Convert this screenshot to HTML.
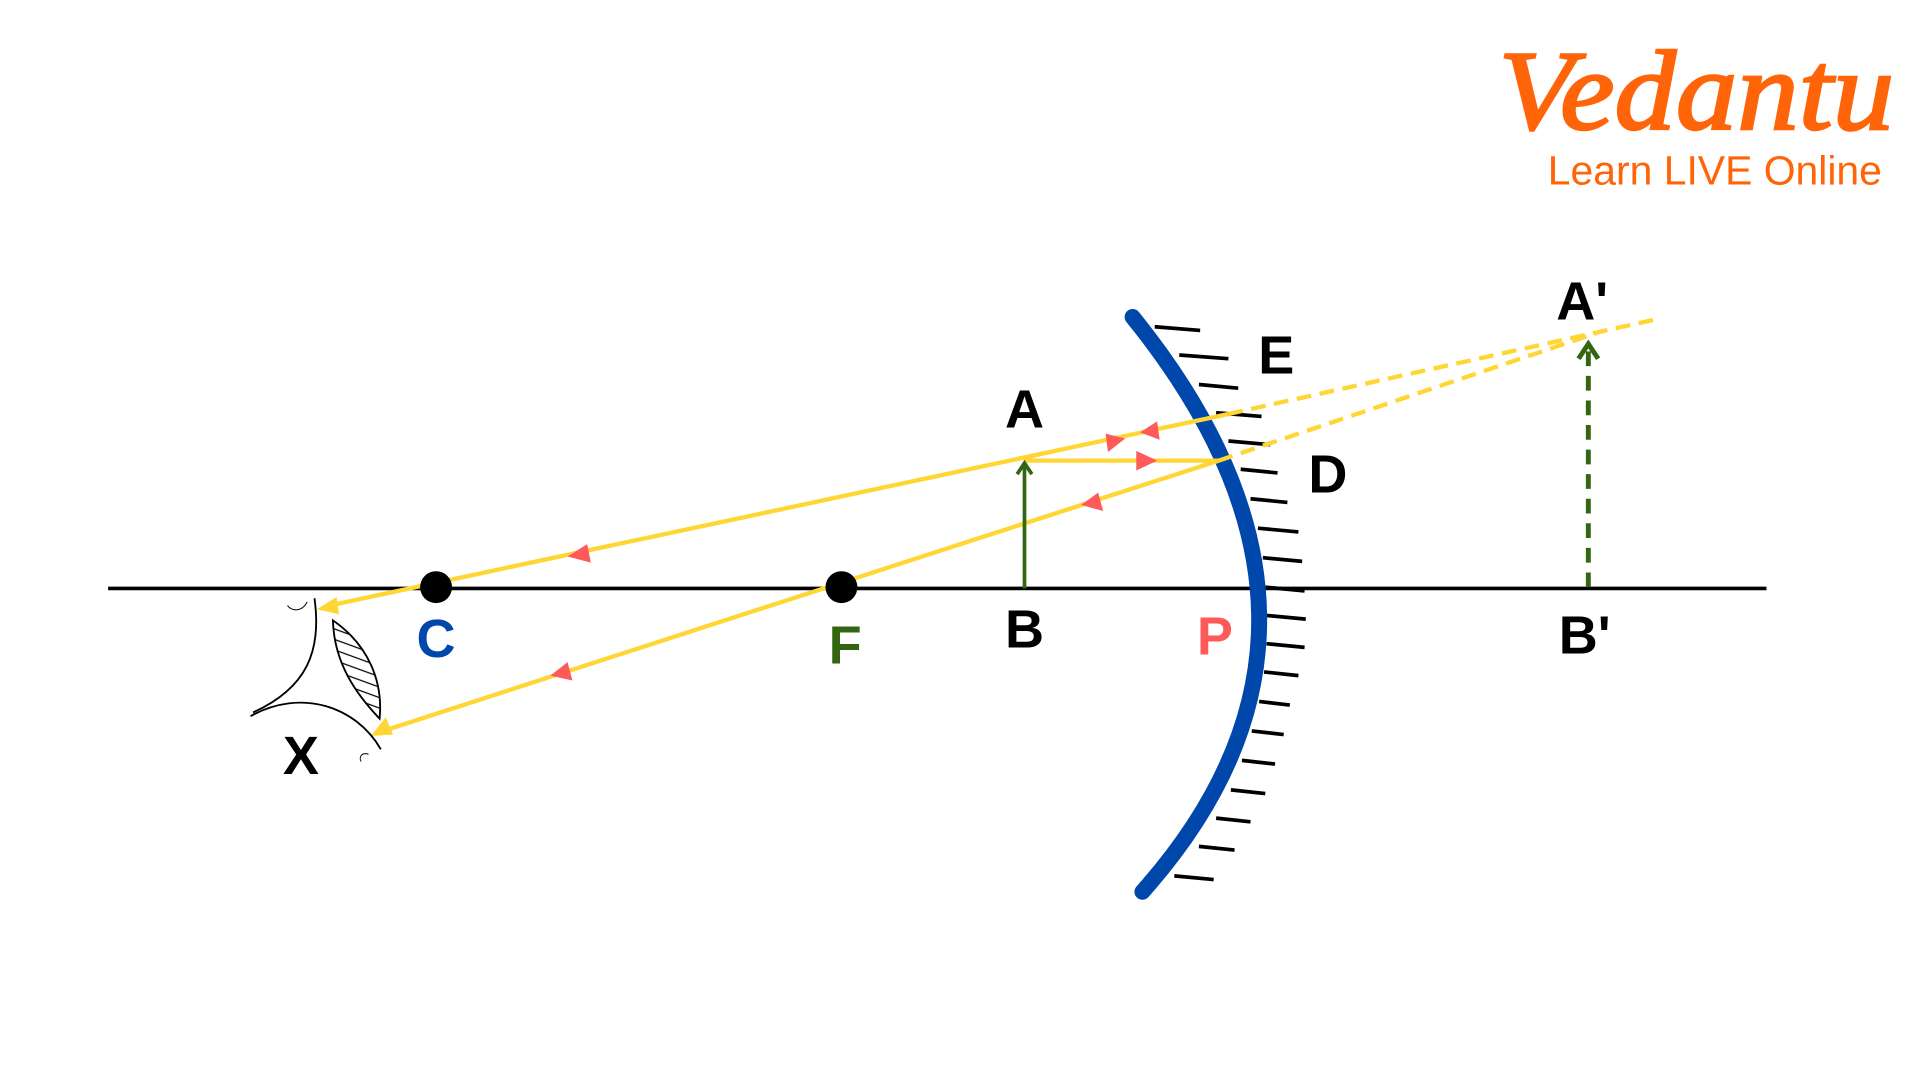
<!DOCTYPE html>
<html><head><meta charset="utf-8"><style>
html,body{margin:0;padding:0;background:#fff;width:1920px;height:1080px;overflow:hidden}
svg{display:block}
text{font-family:"Liberation Sans Narrow","Liberation Sans",sans-serif;font-weight:bold}
</style></head><body>
<svg width="1920" height="1081" viewBox="0 0 1563 880" xmlns="http://www.w3.org/2000/svg">
<defs><pattern id="h" width="8" height="8" patternUnits="userSpaceOnUse" patternTransform="rotate(20)"><line x1="0" y1="4" x2="8" y2="4" stroke="#000" stroke-width="1"/></pattern></defs>
<!-- logo -->
<text x="1220" y="105" font-size="92" fill="#FF6409" style="font-family:'Liberation Serif',serif;font-style:italic;font-weight:normal" stroke="#FF6409" stroke-width="2" textLength="322" lengthAdjust="spacingAndGlyphs">Vedantu</text>
<text x="1260" y="150" font-size="33" fill="#FF6409" style="font-family:'Liberation Sans',sans-serif;font-weight:normal" textLength="272" lengthAdjust="spacingAndGlyphs">Learn LIVE Online</text>
<!-- axis -->
<line x1="88" y1="479" x2="1438" y2="479" stroke="#000" stroke-width="3"/>
<!-- hatch -->
<g stroke="#000" stroke-width="3">
<line x1="940" y1="266" x2="977" y2="269"/><line x1="960" y1="289" x2="1000" y2="292"/>
<line x1="976" y1="313" x2="1008" y2="316"/><line x1="990" y1="336" x2="1027" y2="339"/>
<line x1="1000" y1="359" x2="1034" y2="362"/><line x1="1010" y1="382" x2="1040" y2="385"/>
<line x1="1018" y1="406" x2="1048" y2="409"/><line x1="1024" y1="430" x2="1057" y2="433"/>
<line x1="1028" y1="454" x2="1060" y2="457"/><line x1="1030" y1="478" x2="1062" y2="481"/>
<line x1="1031" y1="501" x2="1063" y2="504"/><line x1="1031" y1="524" x2="1062" y2="527"/>
<line x1="1029" y1="547" x2="1057" y2="550"/><line x1="1025" y1="571" x2="1050" y2="574"/>
<line x1="1019" y1="595" x2="1045" y2="598"/><line x1="1011" y1="619" x2="1038" y2="622"/>
<line x1="1002" y1="643" x2="1030" y2="646"/><line x1="990" y1="666" x2="1018" y2="669"/>
<line x1="976" y1="689" x2="1005" y2="692"/><line x1="956" y1="713" x2="988" y2="716"/>
</g>
<!-- mirror -->
<path d="M922,258 Q1124,508 930,726" fill="none" stroke="#0047AB" stroke-width="13" stroke-linecap="round"/>
<!-- rays -->
<g stroke="#FFD633" stroke-width="3.5" fill="none">
<line x1="268" y1="493" x2="1000" y2="337"/>
<line x1="834" y1="375" x2="992" y2="375"/>
<line x1="992" y1="375" x2="312" y2="595"/>
<line x1="1000" y1="337" x2="1348" y2="260" stroke-dasharray="12,7"/>
<line x1="992" y1="375" x2="1300" y2="271" stroke-dasharray="12,7"/>
</g>
<polygon points="258,496 274,486 276,500" fill="#FFD633"/>
<polygon points="302,599 314,584 320,598" fill="#FFD633"/>
<!-- red arrows -->
<g fill="#FF5A5A">
<polygon points="462,453 478,443 481,458"/>
<polygon points="916,357 900,353 902,368"/>
<polygon points="928,352 942,343 944,358"/>
<polygon points="942,375 925,367 925,383"/>
<polygon points="880,411 894,401 898,416"/>
<polygon points="448,550 462,539 466,554"/>
</g>
<!-- object -->
<line x1="834" y1="479" x2="834" y2="378" stroke="#336611" stroke-width="3"/>
<polyline points="828,386 834,377 840,386" fill="none" stroke="#336611" stroke-width="3"/>
<line x1="1293" y1="478" x2="1293" y2="283" stroke="#336611" stroke-width="4" stroke-dasharray="12,8"/>
<polyline points="1285,292 1293,280 1301,292" fill="none" stroke="#336611" stroke-width="4"/>
<!-- dots -->
<circle cx="355" cy="478" r="13" fill="#000"/>
<circle cx="685" cy="478" r="13" fill="#000"/>
<!-- eye -->
<g fill="none" stroke="#000" stroke-width="1.5">
<path d="M256,487 C262,530 250,560 206,580"/>
<path d="M204,583 C245,560 290,575 310,610"/>
<path d="M271,505 C300,525 312,555 309,585 C290,565 272,540 271,505Z" fill="url(#h)"/>
<path d="M234,493 C238,498 246,498 250,490" stroke-width="0.8"/>
<path d="M300,614 C294,612 292,617 294,620" stroke-width="0.8"/>
</g>
<!-- labels -->
<g font-size="44" text-anchor="middle">
<text x="834" y="348" fill="#000">A</text>
<text x="1039" y="304" fill="#000">E</text>
<text x="1081" y="401" fill="#000">D</text>
<text x="355" y="535" fill="#0047AB">C</text>
<text x="688" y="540" fill="#336611">F</text>
<text x="834" y="527" fill="#000">B</text>
<text x="989" y="533" fill="#FF5A5A">P</text>
<text x="1290" y="532" fill="#000">B'</text>
<text x="1288" y="260" fill="#000">A'</text>
<text x="245" y="630" fill="#000">X</text>
</g>
</svg>
</body></html>
